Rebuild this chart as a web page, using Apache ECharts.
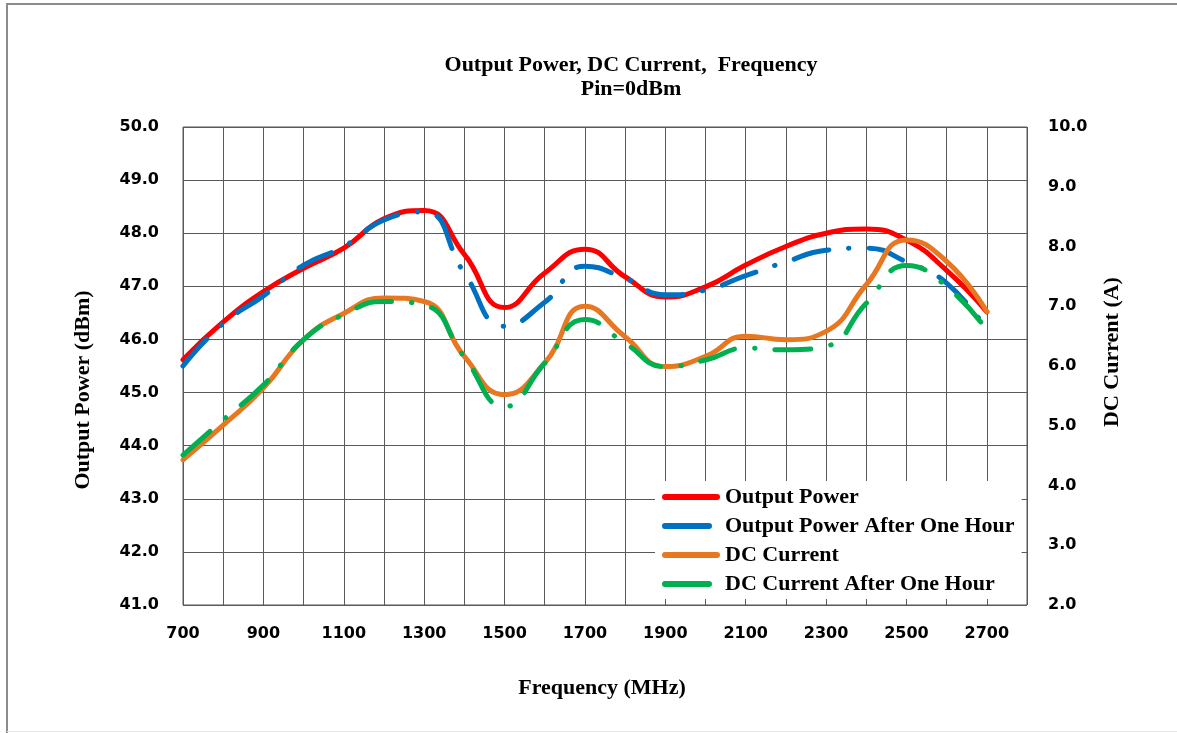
<!DOCTYPE html>
<html>
<head>
<meta charset="utf-8">
<script src="https://cdn.jsdelivr.net/npm/echarts@6/dist/echarts.min.js"></script>
<style>
html, body { margin: 0; padding: 0; background: #fff; }
#chart { width: 1177px; height: 733px; }
</style>
</head>
<body>
<div id="chart"></div>
<script>
// frequency points (MHz)
var freq = [700, 800, 900, 1000, 1100, 1200, 1300, 1400, 1500, 1600, 1700,
	1800, 1900, 2000, 2100, 2200, 2300, 2400, 2500, 2600, 2700];
// dBm, left axis
var outputPower = [45.62, 46.33, 46.9, 47.34, 47.72, 48.27, 48.43, 47.6, 46.6, 47.25, 47.7,
	47.18, 46.8, 46.99, 47.4, 47.75, 48.0, 48.08, 47.87, 47.3, 46.52];
var outputPower1h = [45.5, 46.3, 46.82, 47.4, 47.75, 48.25, 48.4, 47.25, 46.25, 46.7, 47.38,
	47.15, 46.84, 46.93, 47.2, 47.46, 47.68, 47.72, 47.46, 47.06, 46.18];
// A, right axis
var dcCurrent = [4.43, 5.01, 5.63, 6.44, 6.88, 7.14, 7.08, 6.16, 5.52, 6.05, 7.0,
	6.49, 5.99, 6.16, 6.5, 6.44, 6.58, 7.36, 8.11, 7.75, 6.91];
var dcCurrent1h = [4.51, 5.1, 5.68, 6.44, 6.86, 7.08, 7.02, 6.15, 5.32, 6.05, 6.78,
	6.38, 5.99, 6.1, 6.3, 6.27, 6.33, 7.05, 7.68, 7.33, 6.6];

var seriesNames = ['Output Power', 'Output Power After One Hour', 'DC Current', 'DC Current After One Hour'];
var colors = ['#FF0000', '#0070C0', '#E87722', '#00B050'];

var serif = '"Liberation Serif", "Times New Roman", serif';
var sans = '"DejaVu Sans", sans-serif';
var gridColor = '#595959';
var dashDot = [36, 20, 0.5, 20];
// legend keys: a full rounded bar, and a shorter dash for the dashed series
var solidKey = 'path://M3,0 H55 A3,3 0 0 1 55,6 H3 A3,3 0 0 1 3,0 Z';
var dashKey = 'path://M3,0 H47 A3,3 0 0 1 47,6 H3 A3,3 0 0 1 3,0 Z M57.9,2.9 h0.1 v0.1 h-0.1 Z';

function pairs(ys) {
	return freq.map(function (f, i) { return [f, ys[i]]; });
}

function lineSeries(idx, ys, yAxisIndex, dashed) {
	return {
		name: seriesNames[idx],
		type: 'line',
		yAxisIndex: yAxisIndex,
		data: pairs(ys),
		smooth: 0.5,
		showSymbol: false,
		symbol: 'none',
		color: colors[idx],
		lineStyle: {
			width: 5,
			color: colors[idx],
			type: dashed ? dashDot : 'solid',
			cap: 'round'
		},
		z: 2 + idx
	};
}

var option = {
	animation: false,
	backgroundColor: '#fff',
	title: {
		text: 'Output Power, DC Current,  Frequency\nPin=0dBm',
		left: 626,
		top: 48,
		textAlign: 'center',
		textStyle: {
			fontFamily: serif,
			fontWeight: 'bold',
			fontSize: 22,
			lineHeight: 24,
			color: '#000'
		}
	},
	legend: {
		orient: 'vertical',
		left: 655,
		top: 481,
		padding: [5, 7, 4, 7],
		itemWidth: 58,
		itemHeight: 6,
		itemGap: 7,
		backgroundColor: '#fff',
		textStyle: {
			fontFamily: serif,
			fontWeight: 'bold',
			fontSize: 22,
			color: '#000'
		},
		data: [
			{ name: seriesNames[0], icon: solidKey },
			{ name: seriesNames[1], icon: dashKey },
			{ name: seriesNames[2], icon: solidKey },
			{ name: seriesNames[3], icon: dashKey }
		]
	},
	grid: {
		left: 183,
		right: 150,
		top: 127,
		bottom: 128,
		show: true,
		borderColor: gridColor,
		borderWidth: 1
	},
	xAxis: {
		type: 'value',
		min: 700,
		max: 2800,
		interval: 100,
		axisLine: { show: false },
		axisTick: { show: false },
		splitLine: { show: true, lineStyle: { color: gridColor, width: 1 } },
		axisLabel: {
			margin: 21,
			fontFamily: sans,
			fontWeight: 'bold',
			fontSize: 16,
			color: '#000',
			formatter: function (v) {
				return ((v - 700) % 200 === 0 && v <= 2700) ? String(v) : '';
			}
		}
	},
	yAxis: [
		{
			type: 'value',
			min: 41,
			max: 50,
			interval: 1,
			axisLine: { show: false },
			axisTick: { show: false },
			splitLine: { show: true, lineStyle: { color: gridColor, width: 1 } },
			axisLabel: {
				margin: 24,
				fontFamily: sans,
				fontWeight: 'bold',
				fontSize: 16,
				color: '#000',
				formatter: function (v) { return v.toFixed(1); }
			}
		},
		{
			type: 'value',
			position: 'right',
			min: 2,
			max: 10,
			interval: 1,
			axisLine: { show: false },
			axisTick: { show: false },
			splitLine: { show: false },
			axisLabel: {
				margin: 21,
				fontFamily: sans,
				fontWeight: 'bold',
				fontSize: 16,
				color: '#000',
				formatter: function (v) { return v.toFixed(1); }
			}
		}
	],
	graphic: [
		{ type: 'line', shape: { x1: 6, y1: 4, x2: 1177, y2: 4 }, style: { stroke: '#8c8c8c', lineWidth: 2 } },
		{ type: 'line', shape: { x1: 7, y1: 4, x2: 7, y2: 733 }, style: { stroke: '#8c8c8c', lineWidth: 2 } },
		{ type: 'line', shape: { x1: 7, y1: 731.5, x2: 1177, y2: 731.5 }, style: { stroke: '#e6e6e6', lineWidth: 1 } },
		{
			type: 'text', x: 83, y: 390, rotation: Math.PI / 2,
			style: { text: 'Output Power (dBm)', font: 'bold 22px ' + serif, fill: '#000', textAlign: 'center', textVerticalAlign: 'middle' }
		},
		{
			type: 'text', x: 1112, y: 352, rotation: Math.PI / 2,
			style: { text: 'DC Current (A)', font: 'bold 22px ' + serif, fill: '#000', textAlign: 'center', textVerticalAlign: 'middle' }
		},
		{
			type: 'text', x: 602, y: 688,
			style: { text: 'Frequency (MHz)', font: 'bold 22px ' + serif, fill: '#000', textAlign: 'center', textVerticalAlign: 'middle' }
		}
	],
	series: [
		lineSeries(0, outputPower, 0, false),
		lineSeries(1, outputPower1h, 0, true),
		lineSeries(2, dcCurrent, 1, false),
		lineSeries(3, dcCurrent1h, 1, true)
	]
};

var chart = echarts.init(document.getElementById('chart'));
chart.setOption(option);
</script>
</body>
</html>
